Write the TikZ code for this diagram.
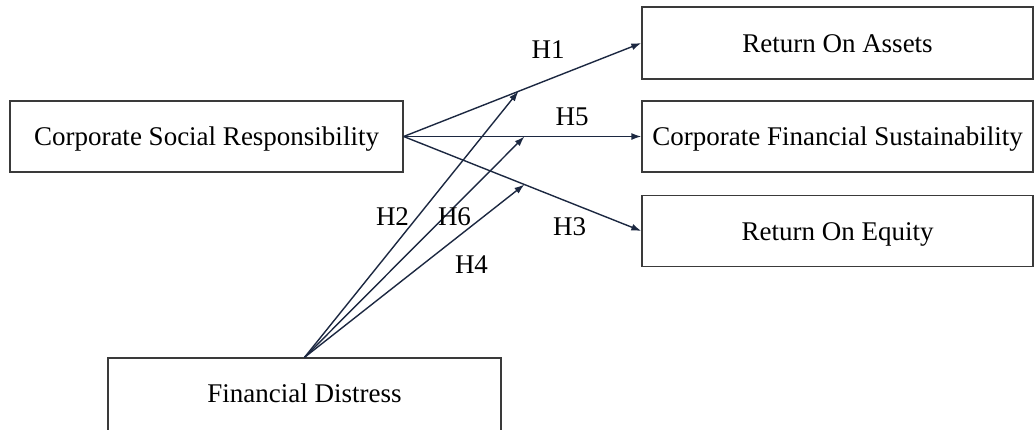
\documentclass[tikz,border=0pt]{standalone}
\usepackage{fontspec}
\setmainfont{Liberation Serif}
\usetikzlibrary{calc,arrows.meta}
\definecolor{arrowc}{HTML}{1C2841}
\definecolor{boxc}{HTML}{3A3A3A}
\begin{document}
\begin{tikzpicture}[x=1pt,y=-1pt,
  font=\fontsize{27}{32}\selectfont,
  box/.style={draw=boxc,line width=1.3pt,inner sep=0pt,minimum width=393pt,minimum height=71pt,text height=18pt,text depth=0pt},
  arr/.style={draw=arrowc,line width=1.4pt,-{Latex[length=10pt,width=7pt]}},
  lab/.style={inner sep=0pt,text height=18pt,text depth=0pt}]
\useasboundingbox (0,0) rectangle (1034,429);
\clip (0,0) rectangle (1034,429);
\node[box] (csr) at (206.5,136.5) {Corporate Social Responsibility};
\node[box,minimum width=391pt,minimum height=72pt] (roa) at (837.5,43) {Return On Assets};
\node[box,minimum width=391pt] (cfs) at (837.5,136.5) {Corporate Financial Sustainability};
\node[box,minimum width=391pt] (roe) at (837.5,231) {Return On Equity};
\node[box,minimum height=76pt,text depth=6pt] (fd) at (304.5,396) {Financial Distress};
\draw[arr] (csr.east) -- (roa.west);
\draw[arr] (csr.east) -- (cfs.west);
\draw[arr] (csr.east) -- (roe.west);
\coordinate (p2) at ($(csr.east)!0.483!(roa.west)$);
\coordinate (p6) at ($(csr.east)!0.508!(cfs.west)$);
\coordinate (p4) at ($(csr.east)!0.508!(roe.west)$);
\draw[arr] (fd.north) -- (p2);
\draw[arr] (fd.north) -- (p6);
\draw[arr] (fd.north) -- (p4);
\node[lab] (h1) at (548,49) {H1};
\node[lab] (h5) at (572,116) {H5};
\node[lab] (h3) at (569.5,226) {H3};
\node[lab] (h2) at (392.5,216) {H2};
\node[lab] (h6) at (454.5,216) {H6};
\node[lab] (h4) at (471.5,264) {H4};
\end{tikzpicture}
\end{document}
